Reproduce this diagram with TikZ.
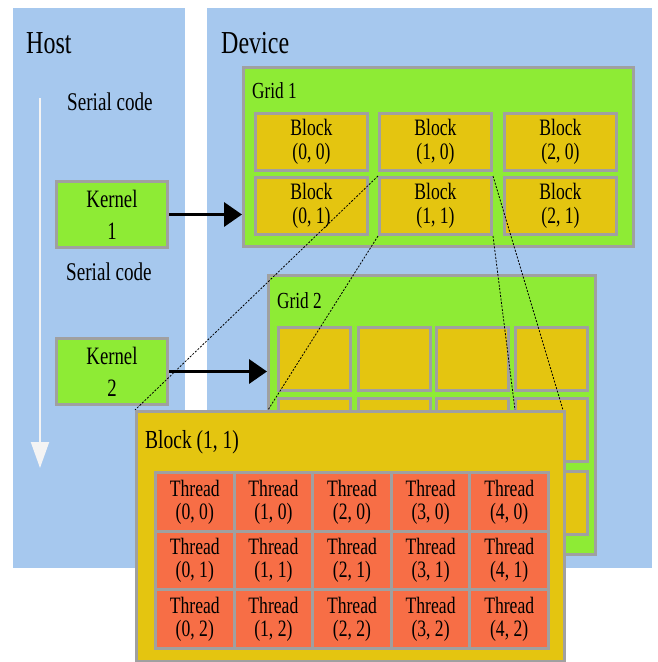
\documentclass[tikz,border=0pt]{standalone}
\usepackage{fontspec}
\setmainfont[FakeStretch=0.75]{Liberation Serif}
\usetikzlibrary{arrows.meta}
\definecolor{panel}{RGB}{166,200,238}
\definecolor{gridg}{RGB}{142,235,53}
\definecolor{blocky}{RGB}{228,197,16}
\definecolor{threadr}{RGB}{247,110,70}
\definecolor{bord}{RGB}{160,160,160}
\definecolor{whitearrow}{RGB}{244,244,244}
\tikzset{
  panelbox/.style={fill=panel, draw=none, anchor=north west, inner sep=0pt},
  gbox/.style={fill=gridg, draw=bord, line width=3pt, anchor=north west, inner sep=0pt},
  kbox/.style={fill=gridg, draw=bord, line width=3pt, anchor=north west, inner sep=0pt, align=center, font=\fontsize{25}{32}\selectfont, minimum width=111pt, minimum height=66pt},
  bbox/.style={fill=blocky, draw=bord, line width=3pt, anchor=north west, inner sep=0pt, align=center, font=\fontsize{23.5}{24.5}\selectfont},
  tbox/.style={fill=threadr, draw=bord, line width=3pt, anchor=north west, inner sep=0pt, align=center, font=\fontsize{23.5}{23}\selectfont, minimum width=78.6pt, minimum height=58.7pt},
  bigtitle/.style={anchor=base west, inner sep=0pt, font=\fontsize{32}{32}\selectfont},
  label/.style={anchor=base west, inner sep=0pt, font=\fontsize{25.5}{25.5}\selectfont},
  biglabel/.style={anchor=base west, inner sep=0pt, font=\fontsize{26}{26}\selectfont},
  gridlabel/.style={anchor=base west, inner sep=0pt, font=\fontsize{23}{23}\selectfont},
  launch/.style={line width=3.5pt, -{Triangle[width=24pt,length=18pt]}},
  flow/.style={line width=2pt, draw=whitearrow, -{Triangle[width=18pt,length=26pt]}},
  zoomline/.style={line width=0.8pt, dash pattern=on 2pt off 1.5pt}
}
\begin{document}
\begin{tikzpicture}[x=1pt,y=-1pt]
\useasboundingbox[fill=white] (0,0) rectangle (657,662);
% panels
\node[panelbox, minimum width=172pt, minimum height=560pt] (host) at (13,8) {};
\node[panelbox, minimum width=445pt, minimum height=560pt] (device) at (207,8) {};
\node[bigtitle] (hostlbl) at (26,53) {Host};
\node[bigtitle] (devlbl) at (221,53) {Device};
\node[label] (ser1) at (67,110) {Serial code};
\node[label] (ser2) at (66,280) {Serial code};
% flow arrow
\coordinate (fs) at (40,98);
\coordinate (fe) at (40,468);
\draw[flow] (fs) -- (fe);
% kernels
\node[kbox] (k1) at (55,180) {Kernel\\1};
\node[kbox] (k2) at (55,337) {Kernel\\2};
% Grid 1
\node[gbox, minimum width=390pt, minimum height=179pt] (g1) at (242,66) {};
\node[gridlabel] (g1lbl) at (252,98) {Grid 1};
\foreach \c/\x in {0/254,1/378,2/503}{
  \foreach \r/\y in {0/112,1/176}{
    \node[bbox, minimum width=112pt, minimum height=57pt] (b\c\r) at (\x,\y) {Block\\(\c, \r)};
  }
}
% Grid 2
\node[gbox, minimum width=327pt, minimum height=279pt] (g2) at (267,274) {};
\node[gridlabel] (g2lbl) at (277,308) {Grid 2};
\foreach \c/\x in {0/277,1/357,2/435,3/514}{
  \foreach \r/\y in {0/326,1/397,2/470}{
    \node[bbox, minimum width=72pt, minimum height=63pt] (gb\c\r) at (\x,\y) {};
  }
}
% launch arrows
\draw[launch] (k1.east) -- (k1.east -| g1.west);
\draw[launch] (k2.east) -- (k2.east -| g2.west);
% zoom lines
\coordinate (z1) at (135,410);
\coordinate (z2) at (268,410);
\coordinate (z3) at (515,410);
\coordinate (z4) at (563,410);
\draw[zoomline] (b11.north west) -- (z1);
\draw[zoomline] (b11.south west) -- (z2);
\draw[zoomline] (b11.south east) -- (z3);
\draw[zoomline] (b11.north east) -- (z4);
% Block (1,1) detail
\node[bbox, minimum width=428pt, minimum height=250pt] (big) at (135,410) {};
\node[biglabel] (biglbl) at (145,448) {Block (1, 1)};
\foreach \c in {0,...,4}{
  \foreach \r in {0,1,2}{
    \node[tbox] (t\c\r) at ({154+78.6*\c},{471+58.7*\r}) {Thread\\(\c, \r)};
  }
}
\end{tikzpicture}
\end{document}
